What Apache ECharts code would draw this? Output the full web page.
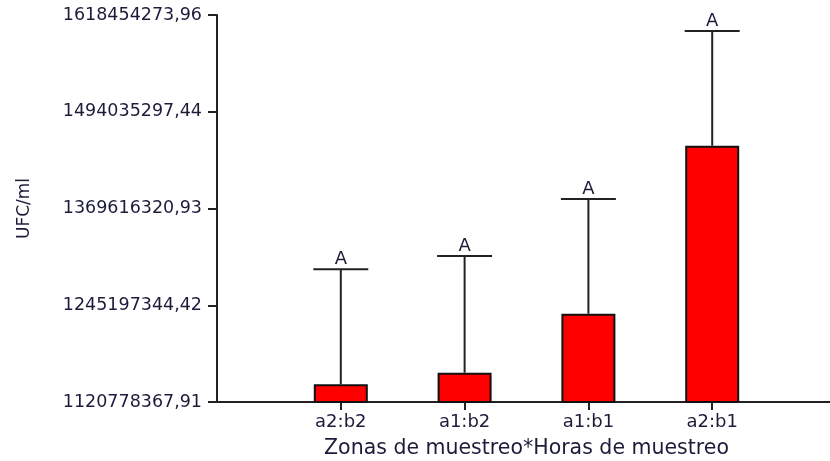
<!DOCTYPE html>
<html>
<head>
<meta charset="utf-8">
<script src="https://cdn.jsdelivr.net/npm/echarts@6/dist/echarts.min.js"></script>
<style>html,body{margin:0;padding:0;background:#fff}#c{width:830px;height:461px}</style>
</head>
<body>
<div id="c"></div>
<script>
const categories = ['a2:b2', 'a1:b2', 'a1:b1', 'a2:b1'];
const means = [1143540000, 1158460000, 1234330000, 1450380000];
const upper = [1291430000, 1308530000, 1381830000, 1597880000];
const letters = ['A', 'A', 'A', 'A'];
const tickValues = [1120778367.91, 1245197344.42, 1369616320.93, 1494035297.44, 1618454273.96];
const tickLabels = ['1120778367,91', '1245197344,42', '1369616320,93', '1494035297,44', '1618454273,96'];

const FONT = 'DejaVu Sans';
const TXT = '#1c1c3a';
const paddedCats = [''].concat(categories, ['']);
const barData = ['-'].concat(means, ['-']);
const errData = categories.map((c, i) => [i + 1, means[i], upper[i], letters[i]]);

const chart = echarts.init(document.getElementById('c'));
chart.setOption({
  animation: false,
  grid: { left: 217, width: 619, top: 15, bottom: 59, containLabel: false, outerBoundsMode: 'none' },
  xAxis: {
    type: 'category',
    data: paddedCats,
    boundaryGap: false,
    axisLine: { lineStyle: { color: '#222', width: 2 } },
    axisTick: { show: true, length: 8, lineStyle: { color: '#222', width: 2 },
      interval: (i) => i >= 1 && i <= categories.length },
    axisLabel: { margin: 11, fontFamily: FONT, fontSize: 18, color: TXT,
      interval: 0 },
    name: 'Zonas de muestreo*Horas de muestreo',
    nameLocation: 'middle',
    nameGap: 36,
    nameTextStyle: { fontFamily: FONT, fontSize: 20.5, color: TXT },
    splitLine: { show: false }
  },
  yAxis: {
    type: 'value',
    min: tickValues[0],
    max: tickValues[tickValues.length - 1],
    axisLine: { show: true, lineStyle: { color: '#222', width: 2 } },
    axisTick: { show: true, length: 9, customValues: tickValues, lineStyle: { color: '#222', width: 2 } },
    axisLabel: { margin: 15, fontFamily: FONT, fontSize: 17.5, color: TXT,
      customValues: tickValues,
      formatter: (v) => {
        let best = 0;
        tickValues.forEach((t, i) => { if (Math.abs(t - v) < Math.abs(tickValues[best] - v)) best = i; });
        return tickLabels[best];
      } },
    splitLine: { show: false },
    name: 'UFC/ml',
    nameLocation: 'middle',
    nameRotate: 90,
    nameGap: 184,
    nameTextStyle: { fontFamily: FONT, fontSize: 17, color: TXT }
  },
  series: [
    {
      type: 'bar',
      data: barData,
      barWidth: 54,
      itemStyle: { color: '#ff0000', borderColor: '#111', borderWidth: 2 },
      z: 2
    },
    {
      type: 'custom',
      data: errData,
      z: 1,
      renderItem: (params, api) => {
        const x = api.value(0);
        const top = api.coord([x, api.value(2)]);
        const base = api.coord([x, api.value(1)]);
        const half = 27.5;
        return {
          type: 'group',
          children: [
            { type: 'line', shape: { x1: top[0], y1: base[1], x2: top[0], y2: top[1] },
              style: { stroke: '#222', lineWidth: 2 } },
            { type: 'line', shape: { x1: top[0] - half, y1: top[1], x2: top[0] + half, y2: top[1] },
              style: { stroke: '#222', lineWidth: 2 } },
            { type: 'text', style: { text: errData[params.dataIndex][3], x: top[0], y: top[1] - 1,
              align: 'center', verticalAlign: 'bottom', fontFamily: FONT, fontSize: 18, fill: TXT } }
          ]
        };
      }
    }
  ]
});
</script>
</body>
</html>
